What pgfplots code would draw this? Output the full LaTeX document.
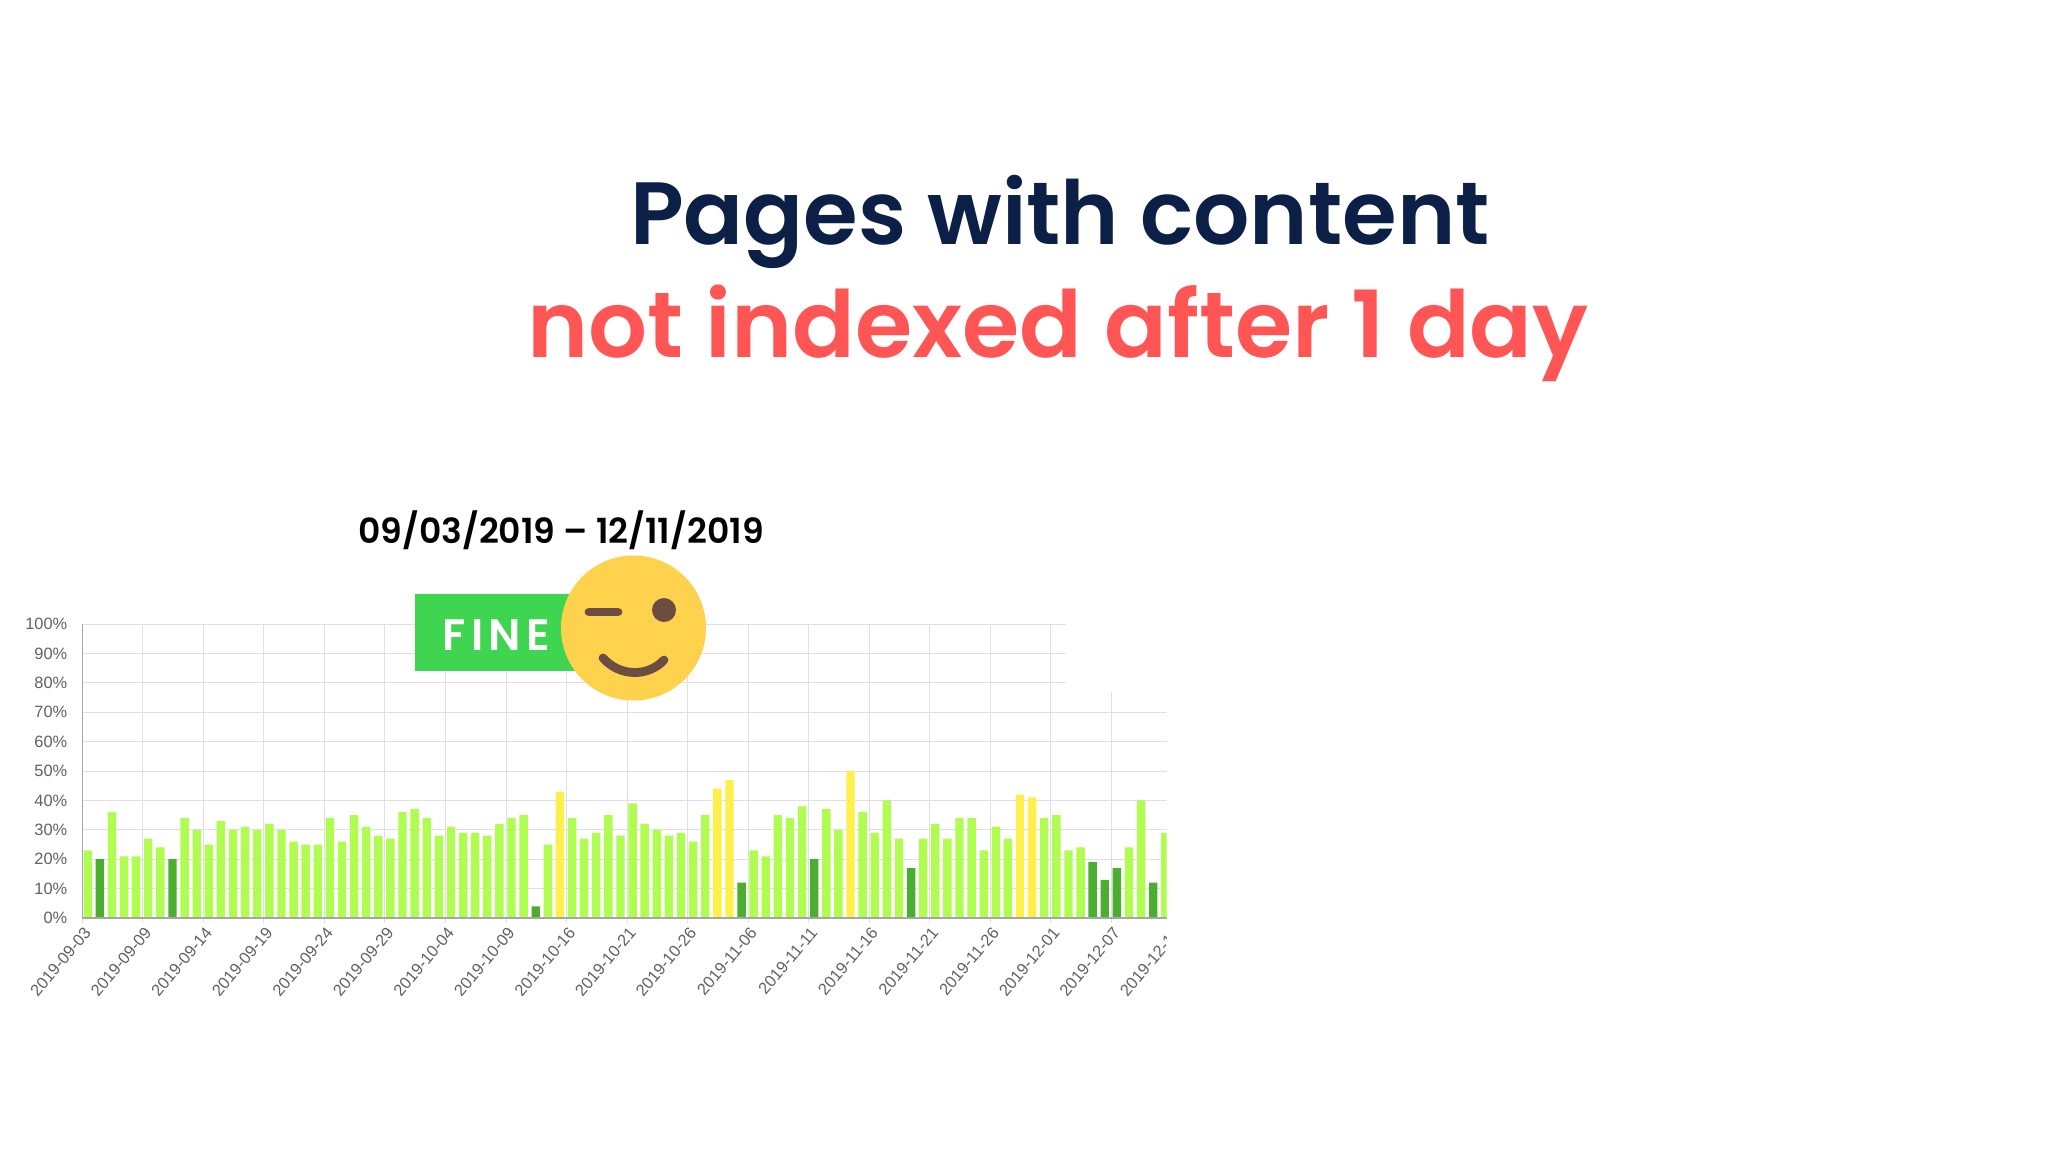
\documentclass[border=0pt]{standalone}
\usepackage{fontspec}
\setmainfont{Liberation Sans}
\newfontfamily\headfont{Poppins SemiBold}
\newfontfamily\finefont[LetterSpace=12]{Poppins SemiBold}
\usepackage{pgfplots}
\usepackage{pgfplotstable}
\pgfplotsset{compat=1.18}

\definecolor{navy}{HTML}{0B1F47}
\definecolor{coral}{HTML}{FF5555}
\definecolor{barlight}{HTML}{B0FC50}
\definecolor{bardark}{HTML}{4BAE30}
\definecolor{baryellow}{HTML}{FFEF4A}
\definecolor{gridc}{HTML}{E0DFE4}
\definecolor{badge}{HTML}{3FD550}
\definecolor{smiley}{HTML}{FFD24D}
\definecolor{smileyb}{HTML}{6D4C41}

% index = slot number from the left, value in percent
\pgfplotstableread{
n v
0 23
2 36
3 21
4 21
5 27
6 24
8 34
9 30
10 25
11 33
12 30
13 31
14 30
15 32
16 30
17 26
18 25
19 25
20 34
21 26
22 35
23 31
24 28
25 27
26 36
27 37
28 34
29 28
30 31
31 29
32 29
33 28
34 32
35 34
36 35
38 25
40 34
41 27
42 29
43 35
44 28
45 39
46 32
47 30
48 28
49 29
50 26
51 35
55 23
56 21
57 35
58 34
59 38
61 37
62 30
64 36
65 29
66 40
67 27
69 27
70 32
71 27
72 34
73 34
74 23
75 31
76 27
79 34
80 35
81 23
82 24
86 24
87 40
89 29
}\lighttable
\pgfplotstableread{
n v
1 20
7 20
37 4
54 12
60 20
68 17
83 19
84 13
85 17
88 12
}\darktable
\pgfplotstableread{
n v
39 43
52 44
53 47
63 50
77 42
78 41
}\yellowtable

\begin{document}
\begin{tikzpicture}[x=0.5pt,y=-0.5pt]
\useasboundingbox (0,0) rectangle (2048,1152);
\fill[white] (0,0) rectangle (2048,1152);

\node[anchor=base,text=navy,font=\headfont\fontsize{44.2}{44.2}\selectfont] at (1060,244) {Pages with content};
\node[anchor=base,text=coral,font=\headfont\fontsize{46.3}{46.3}\selectfont] at (1058,357) {not indexed after 1 day};
\node[anchor=base,text=black,font=\headfont\fontsize{17.3}{17.3}\selectfont] at (561,543) {09/03/2019 – 12/11/2019};

\begin{scope}
\clip (0,0) rectangle (1166.6,1152);
\begin{axis}[
    at={(41.15pt,-459pt)},
    anchor=south west,
    scale only axis,
    width=550.9pt,
    height=147pt,
    xmin=0, xmax=91,
    ymin=0, ymax=100,
    xtick={0,5,...,90},
    ytick={0,10,...,100},
    xticklabels={2019-09-03,2019-09-09,2019-09-14,2019-09-19,2019-09-24,2019-09-29,2019-10-04,2019-10-09,2019-10-16,2019-10-21,2019-10-26,2019-11-06,2019-11-11,2019-11-16,2019-11-21,2019-11-26,2019-12-01,2019-12-07,2019-12-12},
    yticklabel={\pgfmathprintnumber[assume math mode=true]{\tick}\%},
    xmajorgrids=true,
    ymajorgrids=true,
    grid style={gridc,line width=0.5pt},
    axis x line*=bottom,
    axis y line*=left,
    axis line style={-,color=black!35,line width=0.7pt},
    tick style={gridc,line width=0.5pt},
    xtick style={/pgfplots/major tick length=2.5pt},
    ytick style={/pgfplots/major tick length=5.5pt},
    ticklabel style={font=\fontsize{8.2}{8.2}\selectfont,text=black!62},
    xticklabel style={rotate=50,anchor=east,xshift=4pt,yshift=-3pt},
    yticklabel style={xshift=-4pt},
    ybar,
    bar width=4.2pt,
    bar shift=2.72pt,
]
\addplot[draw=none,fill=barlight] table[x=n,y=v] {\lighttable};
\addplot[draw=none,fill=bardark] table[x=n,y=v] {\darktable};
\addplot[draw=none,fill=baryellow] table[x=n,y=v] {\yellowtable};
\draw[black!35,line width=0.7pt] (axis cs:0,0) -- (axis cs:91,0);
\end{axis}
\end{scope}

% the patch that covers the upper right corner of the grid
\fill[white] (1065.6,600) rectangle (1170,692);

\fill[badge] (415,594) rectangle (600,671);
\node[anchor=base west,inner sep=0pt,text=white,font=\finefont\fontsize{22}{22}\selectfont] at (442,650) {FINE};
\fill[smiley] (633.5,628) circle[radius=36.25pt];
\draw[smileyb,line width=4.4pt,line cap=round] (589,612) -- (618,612);
\fill[smileyb] (664,610) circle[radius=6pt];
\draw[smileyb,line width=4.4pt,line cap=round] (603,658) .. controls (620,677) and (648,677) .. (664,660);
\end{tikzpicture}
\end{document}
